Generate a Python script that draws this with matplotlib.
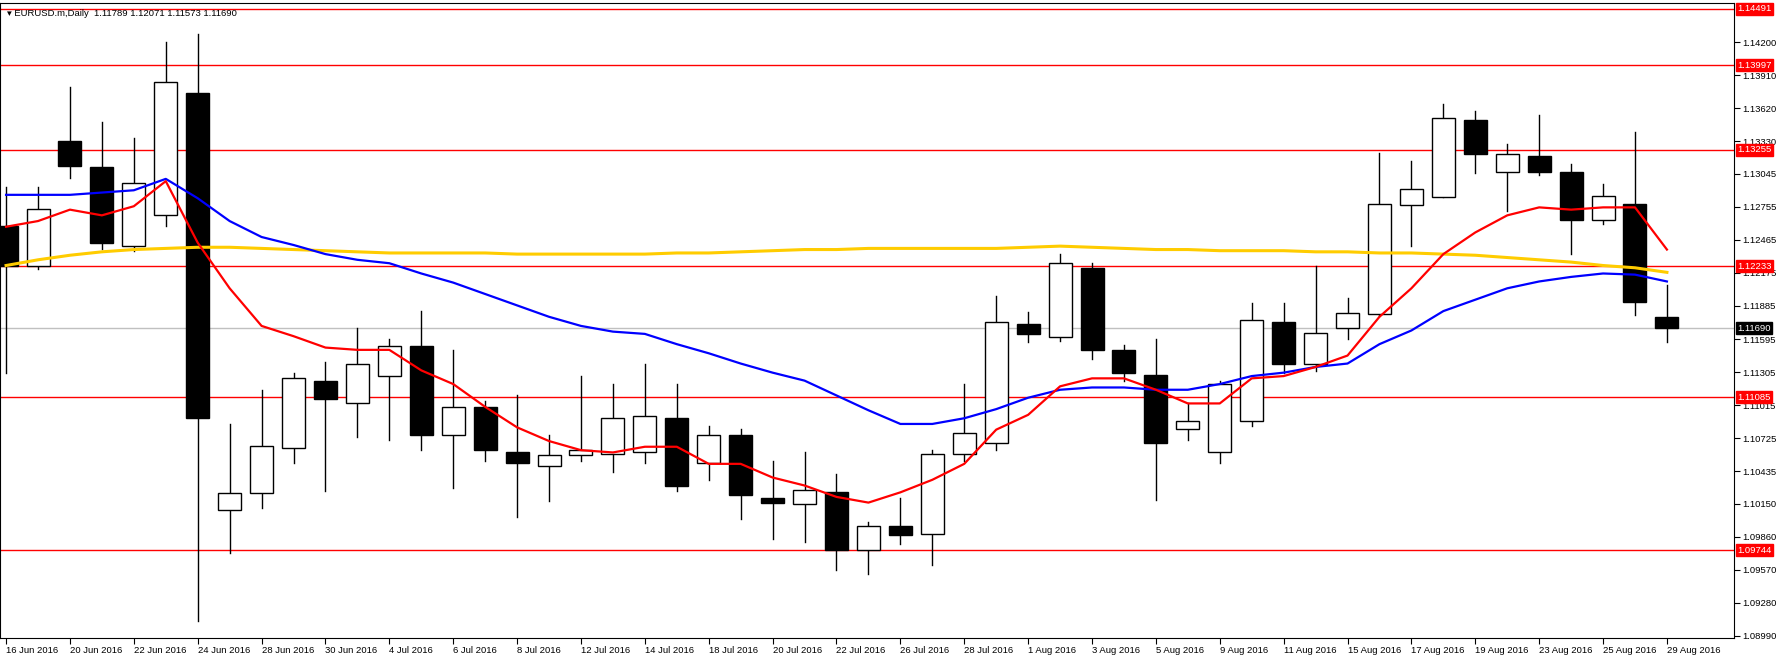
import matplotlib
matplotlib.use("Agg")
import matplotlib.pyplot as plt
from matplotlib.patches import Rectangle

plt.rcParams['font.family'] = ['Liberation Sans', 'DejaVu Sans']

# EURUSD daily, 16 Jun - 29 Aug 2016
dates = ["16 Jun", "17 Jun", "20 Jun", "21 Jun", "22 Jun", "23 Jun", "24 Jun", "27 Jun", "28 Jun", "29 Jun",
         "30 Jun", "1 Jul", "4 Jul", "5 Jul", "6 Jul", "7 Jul", "8 Jul", "11 Jul", "12 Jul", "13 Jul",
         "14 Jul", "15 Jul", "18 Jul", "19 Jul", "20 Jul", "21 Jul", "22 Jul", "25 Jul", "26 Jul", "27 Jul",
         "28 Jul", "29 Jul", "1 Aug", "2 Aug", "3 Aug", "4 Aug", "5 Aug", "8 Aug", "9 Aug", "10 Aug",
         "11 Aug", "12 Aug", "15 Aug", "16 Aug", "17 Aug", "18 Aug", "19 Aug", "22 Aug", "23 Aug", "24 Aug",
         "25 Aug", "26 Aug", "29 Aug"]

opens = [1.1259, 1.12239, 1.13328, 1.13100, 1.12407, 1.12684, 1.13754, 1.10091, 1.10240, 1.10635,
         1.11229, 1.11031, 1.11268, 1.11536, 1.10754, 1.11001, 1.10606, 1.10477, 1.10576, 1.10586,
         1.10606, 1.10902, 1.10506, 1.10754, 1.10200, 1.10150, 1.10249, 1.09745, 1.09952, 1.09883,
         1.10586, 1.10685, 1.11724, 1.11615, 1.12219, 1.11496, 1.11278, 1.10803, 1.10606, 1.10873,
         1.11744, 1.11377, 1.11694, 1.11813, 1.12773, 1.12843, 1.13516, 1.13060, 1.13199, 1.13060,
         1.12635, 1.12783, 1.11789]
highs = [1.1293, 1.12932, 1.13804, 1.13496, 1.13358, 1.14200, 1.14269, 1.10853, 1.11150, 1.11298,
         1.11397, 1.11694, 1.11595, 1.11842, 1.11496, 1.11051, 1.11101, 1.10754, 1.11268, 1.11199,
         1.11377, 1.11199, 1.10833, 1.10803, 1.10526, 1.10606, 1.10408, 1.09992, 1.10200, 1.10625,
         1.11199, 1.11971, 1.11832, 1.12338, 1.12258, 1.11546, 1.11595, 1.11031, 1.11229, 1.11912,
         1.11912, 1.12239, 1.11951, 1.13229, 1.13159, 1.13655, 1.13596, 1.13308, 1.13556, 1.13130,
         1.12951, 1.13407, 1.12071]
lows = [1.1130, 1.12209, 1.13011, 1.12387, 1.12367, 1.12585, 1.09121, 1.09715, 1.10111, 1.10506,
        1.10259, 1.10734, 1.10705, 1.10625, 1.10289, 1.10526, 1.10032, 1.10170, 1.10526, 1.10427,
        1.10506, 1.10259, 1.10358, 1.10012, 1.09844, 1.09814, 1.09566, 1.09537, 1.09794, 1.09616,
        1.10526, 1.10625, 1.11565, 1.11575, 1.11417, 1.11229, 1.10180, 1.10705, 1.10506, 1.10833,
        1.11298, 1.11318, 1.11595, 1.11793, 1.12407, 1.12843, 1.13050, 1.12714, 1.13031, 1.12338,
        1.12605, 1.11803, 1.11573]
closes = [1.1224, 1.12734, 1.13110, 1.12436, 1.12961, 1.13853, 1.10902, 1.10240, 1.10655, 1.11249,
          1.11071, 1.11377, 1.11536, 1.10754, 1.11001, 1.10625, 1.10506, 1.10576, 1.10625, 1.10902,
          1.10922, 1.10309, 1.10754, 1.10230, 1.10160, 1.10269, 1.09745, 1.09952, 1.09873, 1.10586,
          1.10774, 1.11744, 1.11635, 1.12258, 1.11496, 1.11298, 1.10685, 1.10873, 1.11199, 1.11764,
          1.11377, 1.11645, 1.11823, 1.12783, 1.12912, 1.13536, 1.13219, 1.13219, 1.13060, 1.12635,
          1.12853, 1.11922, 1.11690]

ma_red = [1.1258, 1.1263, 1.1273, 1.1268, 1.1276, 1.1298, 1.1244, 1.1204, 1.1171, 1.1162,
          1.1152, 1.1150, 1.1150, 1.1132, 1.1120, 1.1100, 1.1082, 1.1070, 1.1062, 1.1060,
          1.1065, 1.1065, 1.1050, 1.1050, 1.1038, 1.1031, 1.1021, 1.1016, 1.1025, 1.1036,
          1.1050, 1.1080, 1.1093, 1.1118, 1.1125, 1.1125, 1.1115, 1.1103, 1.1103, 1.1125,
          1.1127, 1.1135, 1.1145, 1.1179, 1.1204, 1.1234, 1.1253, 1.1268, 1.1275, 1.1273,
          1.1275, 1.1275, 1.1238]
ma_blue = [1.1286, 1.1286, 1.1286, 1.1288, 1.1290, 1.1300, 1.1283, 1.1263, 1.1249, 1.1242,
           1.1234, 1.1229, 1.1226, 1.1217, 1.1209, 1.1199, 1.1189, 1.1179, 1.1171, 1.1166,
           1.1164, 1.1155, 1.1147, 1.1138, 1.1130, 1.1123, 1.1110, 1.1097, 1.1085, 1.1085,
           1.1090, 1.1098, 1.1108, 1.1115, 1.1117, 1.1117, 1.1115, 1.1115, 1.1120, 1.1127,
           1.1130, 1.1135, 1.1138, 1.1155, 1.1167, 1.1184, 1.1194, 1.1204, 1.1210, 1.1214,
           1.1217, 1.1216, 1.1210]
ma_yellow = [1.1224, 1.1229, 1.1233, 1.1236, 1.1238, 1.1239, 1.1240, 1.1240, 1.1239, 1.1238,
             1.1237, 1.1236, 1.1235, 1.1235, 1.1235, 1.1235, 1.1234, 1.1234, 1.1234, 1.1234,
             1.1234, 1.1235, 1.1235, 1.1236, 1.1237, 1.1238, 1.1238, 1.1239, 1.1239, 1.1239,
             1.1239, 1.1239, 1.1240, 1.1241, 1.1240, 1.1239, 1.1238, 1.1238, 1.1237, 1.1237,
             1.1237, 1.1236, 1.1236, 1.1235, 1.1235, 1.1234, 1.1233, 1.1231, 1.1229, 1.1227,
             1.1224, 1.1222, 1.1218]

levels = [1.14491, 1.13997, 1.13255, 1.12233, 1.11085, 1.09744]
last_price = 1.11690
yticks = [1.14200, 1.13910, 1.13620, 1.13330, 1.13045, 1.12755, 1.12465, 1.12175, 1.11885, 1.11595,
          1.11305, 1.11015, 1.10725, 1.10435, 1.10150, 1.09860, 1.09570, 1.09280, 1.08990]
title = "\u25be EURUSD.m,Daily  1.11789 1.12071 1.11573 1.11690"

fig = plt.figure(figsize=(17.77, 6.6), dpi=100)
ax = fig.add_axes([0.0, 0.0333, 1734 / 1777, 0.962])
n = len(dates)
x = list(range(n))
bw = 0.72
fs = 6.8

for i in x:
    o, h, l, c = opens[i], highs[i], lows[i], closes[i]
    ax.plot([i, i], [l, h], color="black", lw=1, zorder=2)
    bull = c >= o
    ax.add_patch(Rectangle((i - bw / 2, min(o, c)), bw, max(abs(c - o), 0.00002),
                           facecolor="white" if bull else "black", edgecolor="black", lw=1, zorder=3))

ax.plot(x, ma_yellow, color="#ffcc00", lw=2.2, zorder=4)
ax.plot(x, ma_blue, color="#0000ff", lw=1.6, zorder=4)
ax.plot(x, ma_red, color="#ff0000", lw=1.6, zorder=4)

for lv in levels:
    ax.axhline(lv, color="red", lw=1, zorder=1)
ax.axhline(last_price, color="#c0c0c0", lw=1, zorder=1)

ax.set_xlim(-0.19, 54.1)
ax.set_ylim(1.08972, 1.14542)
ax.yaxis.tick_right()
ax.set_yticks(yticks)
ax.set_yticklabels([f"{v:.5f}" for v in yticks], fontsize=fs)
ax.tick_params(axis="y", length=4, pad=2)

xt = x[::2]
ax.set_xticks(xt)
ax.set_xticklabels([dates[i] + " 2016" for i in xt], fontsize=fs, ha="left")
ax.tick_params(axis="x", length=4, pad=2)

for sp in ax.spines.values():
    sp.set_color("black")

trans = ax.get_yaxis_transform()
for lv in levels:
    ax.text(1.002, lv, f"{lv:.5f}", transform=trans, fontsize=fs, color="white", va="center", ha="left",
            bbox=dict(boxstyle="square,pad=0.15", facecolor="red", edgecolor="red"), clip_on=False, zorder=10)
ax.text(1.002, last_price, f"{last_price:.5f}", transform=trans, fontsize=fs, color="white", va="center",
        ha="left", bbox=dict(boxstyle="square,pad=0.15", facecolor="black", edgecolor="black"),
        clip_on=False, zorder=10)

ax.text(0.004, 0.99, title, transform=ax.transAxes, fontsize=fs, va="top", ha="left")

fig.savefig("out.png", dpi=100)
